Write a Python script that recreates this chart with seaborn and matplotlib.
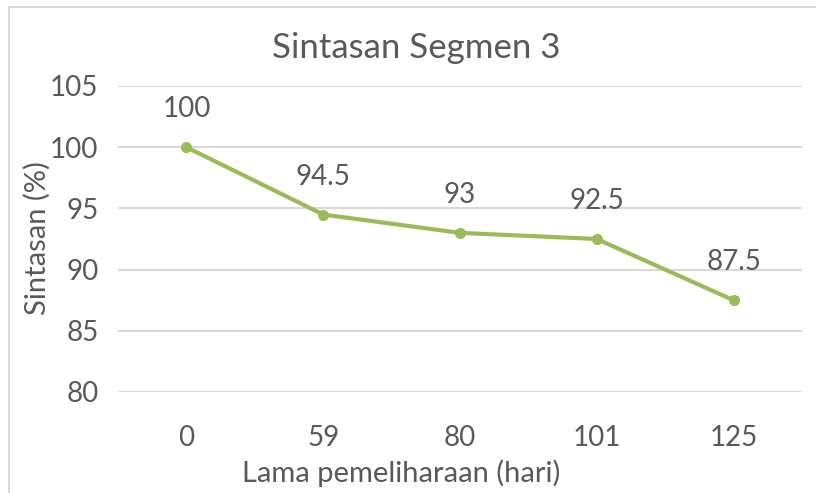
import matplotlib
matplotlib.use("Agg")
import matplotlib.pyplot as plt
import seaborn as sns
import pandas as pd
from matplotlib.patches import Rectangle

days = ["0", "59", "80", "101", "125"]
survival = [100, 94.5, 93, 92.5, 87.5]
value_labels = ["100", "94.5", "93", "92.5", "87.5"]
y_ticks = [80, 85, 90, 95, 100, 105]

sns.set_theme(style="white")
plt.rcParams["font.family"] = ["Lato", "DejaVu Sans"]

text_color = "#595959"
line_color = "#9BBB59"
grid_color = "#D9D9D9"

df = pd.DataFrame({"hari": days, "sintasan": survival})

fig = plt.figure(figsize=(8.16, 4.93), dpi=100)
ax = fig.add_axes([118/816, 1-392/493, (802-118)/816, (392-86)/493])

sns.lineplot(data=df, x="hari", y="sintasan", ax=ax, color=line_color,
             linewidth=3.0, marker="o", markersize=8, markeredgewidth=0,
             sort=False)

ax.set_xlim(-0.5, len(days) - 0.5)
ax.set_ylim(80, 105)
ax.set_yticks(y_ticks)
ax.set_yticklabels([str(t) for t in y_ticks])
ax.yaxis.grid(True, color=grid_color, linewidth=1.5)
ax.set_axisbelow(True)
for s in ax.spines.values():
    s.set_visible(False)
ax.tick_params(axis="y", length=0, labelsize=20, colors=text_color, pad=14)
ax.tick_params(axis="x", length=0, labelsize=20, colors=text_color, pad=24)

for i, (v, lab) in enumerate(zip(survival, value_labels)):
    ax.annotate(lab, xy=(i, v), xytext=(0, 18), textcoords="offset points",
                ha="center", va="bottom", fontsize=20, color=text_color)

ax.set_xlabel("")
ax.set_ylabel("")
fig.text(401/816, 1-473/493, "Lama pemeliharaan (hari)", ha="center",
         va="center", fontsize=21, color=text_color)
fig.text(37/816, 1-238/493, "Sintasan (%)", ha="center", va="center",
         rotation=90, fontsize=21, color=text_color)
fig.text(416/816, 1-48/493, "Sintasan Segmen 3", ha="center", va="center",
         fontsize=25, color=text_color)

fig.patches.append(Rectangle((9/816, -0.1), 1.2, 1 - 7/493 + 0.1,
                             transform=fig.transFigure, fill=False,
                             edgecolor=grid_color, linewidth=1.5))

fig.savefig("out.png", dpi=100, facecolor="white")
